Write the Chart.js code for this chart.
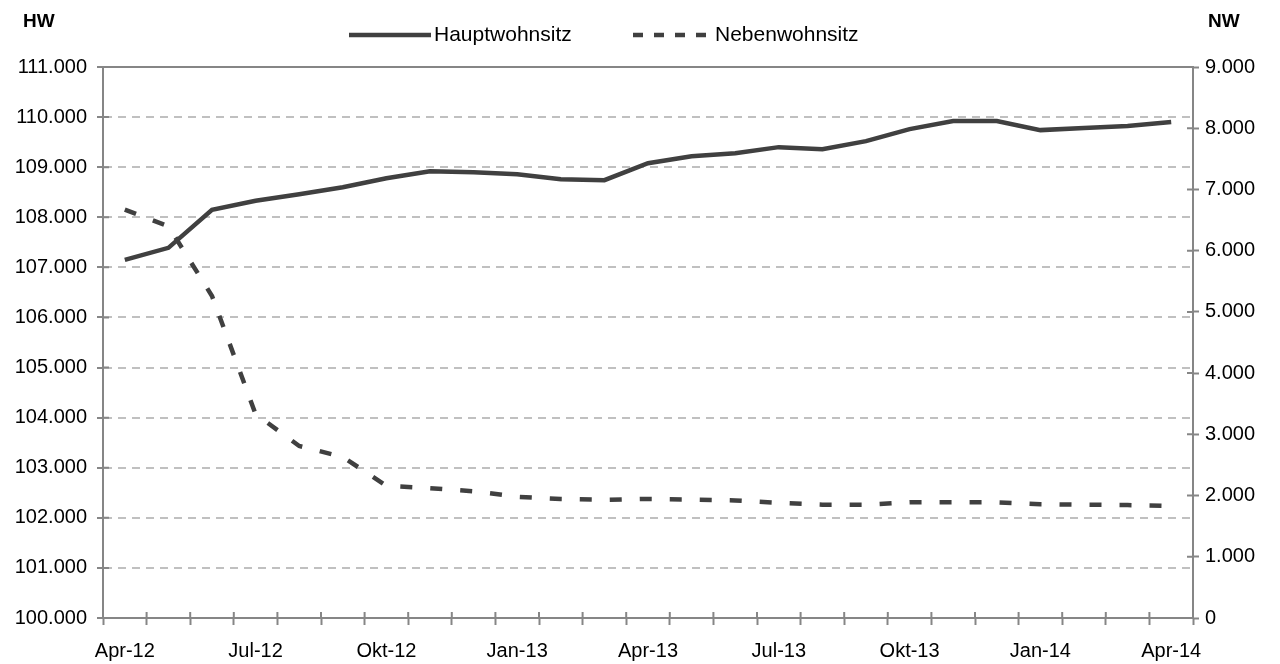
<!DOCTYPE html>
<html>
<head>
<meta charset="utf-8">
<script src="https://cdn.jsdelivr.net/npm/chart.js@4.4.1/dist/chart.umd.min.js"></script>
<style>
  html, body { margin: 0; padding: 0; background: #fff; }
  #wrap { width: 1280px; height: 664px; }
</style>
</head>
<body>
<div id="wrap"><canvas id="einwohnerChart" width="1280" height="664"></canvas></div>
<script>
const months = [
  'Apr-12', 'Mai-12', 'Jun-12', 'Jul-12', 'Aug-12', 'Sep-12', 'Okt-12', 'Nov-12', 'Dez-12',
  'Jan-13', 'Feb-13', 'Mrz-13', 'Apr-13', 'Mai-13', 'Jun-13', 'Jul-13', 'Aug-13', 'Sep-13',
  'Okt-13', 'Nov-13', 'Dez-13', 'Jan-14', 'Feb-14', 'Mrz-14', 'Apr-14'
]

// Hauptwohnsitz (linke Achse)
const hauptwohnsitz = [
  107150, 107390, 108150, 108330, 108460, 108600, 108780, 108920, 108900,
  108860, 108760, 108740, 109080, 109220, 109280, 109400, 109360, 109520,
  109760, 109920, 109920, 109740, 109780, 109820, 109900
]

// Nebenwohnsitz (rechte Achse)
const nebenwohnsitz = [
  6670, 6400, 5260, 3330, 2810, 2630, 2160, 2120, 2070,
  1980, 1945, 1930, 1945, 1935, 1920, 1880, 1850, 1850,
  1890, 1890, 1890, 1860, 1850, 1845, 1830
]

const leftTitle = 'HW'
const rightTitle = 'NW'

const lineColor = '#404040'
const axisColor = '#868686'
const gridColor = '#c0c0c0'

// 111000 -> "111.000"
const fmt = (v) => String(Math.round(v)).replace(/\B(?=(\d{3})+(?!\d))/g, '.')

Chart.defaults.font.family = 'Arial, "Liberation Sans", sans-serif'
Chart.defaults.font.size = 20
Chart.defaults.color = '#000000'

// tick marks that cross the axis, solid top line, legend and axis titles
const excelLook = {
  id: 'excelLook',
  afterDraw(chart) {
    const { ctx, chartArea: a, scales } = chart
    const half = 6
    ctx.save()
    ctx.strokeStyle = axisColor
    ctx.lineWidth = 2

    ctx.beginPath()
    ctx.moveTo(a.left, a.top)
    ctx.lineTo(a.right, a.top)
    ctx.stroke()

    ctx.beginPath()
    scales.y.ticks.forEach((t, i) => {
      const p = scales.y.getPixelForTick(i)
      if (p > a.top + 1 && p < a.bottom - 1) {
        ctx.moveTo(a.left, p)
        ctx.lineTo(a.left + half, p)
      }
    })
    scales.y1.ticks.forEach((t, i) => {
      const p = scales.y1.getPixelForTick(i)
      if (p > a.top + 1 && p < a.bottom - 1) {
        ctx.moveTo(a.right, p)
        ctx.lineTo(a.right - half, p)
      }
    })
    const n = months.length
    const step = (a.right - a.left) / n
    for (let k = 1; k < n; k++) {
      const p = a.left + k * step
      ctx.moveTo(p, a.bottom)
      ctx.lineTo(p, a.bottom - half)
    }
    ctx.stroke()

    // legend
    const ly = 35
    const ds = chart.data.datasets
    ctx.lineWidth = 4.5
    ctx.strokeStyle = lineColor
    ctx.beginPath()
    ctx.moveTo(349, ly)
    ctx.lineTo(431, ly)
    ctx.stroke()
    ctx.setLineDash([10, 11])
    ctx.beginPath()
    ctx.moveTo(633, ly)
    ctx.lineTo(712, ly)
    ctx.stroke()
    ctx.setLineDash([])

    ctx.fillStyle = '#000000'
    ctx.textBaseline = 'middle'
    ctx.textAlign = 'left'
    ctx.font = '21px Arial, "Liberation Sans", sans-serif'
    ctx.fillText(ds[0].label, 434, ly)
    ctx.fillText(ds[1].label, 715, ly)

    ctx.font = 'bold 19px Arial, "Liberation Sans", sans-serif'
    ctx.fillText(leftTitle, 23, 22)
    ctx.fillText(rightTitle, 1208, 22)
    ctx.restore()
  }
}

const ctx = document.getElementById('einwohnerChart').getContext('2d')

new Chart(ctx, {
  type: 'line',
  data: {
    labels: months,
    datasets: [
      {
        label: 'Hauptwohnsitz',
        data: hauptwohnsitz,
        yAxisID: 'y',
        borderColor: lineColor,
        borderWidth: 4.5,
        pointRadius: 0,
        tension: 0,
        fill: false
      },
      {
        label: 'Nebenwohnsitz',
        data: nebenwohnsitz,
        yAxisID: 'y1',
        borderColor: lineColor,
        borderWidth: 4.5,
        borderDash: [12, 18],
        pointRadius: 0,
        tension: 0,
        fill: false
      }
    ]
  },
  options: {
    responsive: false,
    animation: false,
    layout: { padding: { top: 67, left: 0, right: 0, bottom: 0 } },
    plugins: {
      legend: { display: false },
      tooltip: { enabled: false }
    },
    scales: {
      x: {
        offset: true,
        grid: {
          offset: true,
          drawOnChartArea: false,
          tickLength: 7,
          tickWidth: 2,
          tickColor: axisColor
        },
        border: { color: axisColor, width: 2 },
        ticks: {
          autoSkip: false,
          maxRotation: 0,
          padding: 14,
          callback: (v, i) => (i % 3 === 0 ? months[i] : '')
        },
        afterFit: (s) => { s.height = 46 }
      },
      y: {
        position: 'left',
        min: 100000,
        max: 111000,
        ticks: { stepSize: 1000, padding: 10, callback: (v) => fmt(v) },
        grid: {
          color: (c) => (c.tick && (c.tick.value === 100000 || c.tick.value === 111000) ? 'rgba(0,0,0,0)' : gridColor),
          lineWidth: 2,
          tickLength: 6,
          tickWidth: 2,
          tickColor: axisColor
        },
        border: { color: axisColor, width: 2, dash: [8, 6] },
        afterFit: (s) => { s.width = 103 }
      },
      y1: {
        position: 'right',
        min: 0,
        max: 9000,
        ticks: { stepSize: 1000, padding: 6, callback: (v) => fmt(v) },
        grid: {
          drawOnChartArea: false,
          tickLength: 6,
          tickWidth: 2,
          tickColor: axisColor
        },
        border: { color: axisColor, width: 2 },
        afterFit: (s) => { s.width = 87 }
      }
    }
  },
  plugins: [excelLook]
})
</script>
</body>
</html>
